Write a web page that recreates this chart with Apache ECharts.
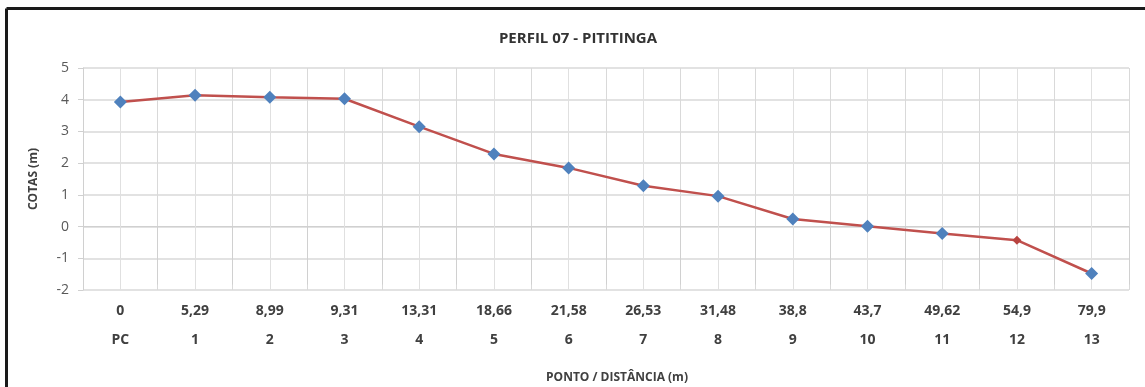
<!DOCTYPE html>
<html><head><meta charset="utf-8">
<script src="https://cdn.jsdelivr.net/npm/echarts@6/dist/echarts.min.js"></script>
<style>html,body{margin:0;padding:0;background:#fff}#c{width:1145px;height:387px}</style>
</head><body><div id="c"></div>
<script>
const distances = ['0','5,29','8,99','9,31','13,31','18,66','21,58','26,53','31,48','38,8','43,7','49,62','54,9','79,9'];
const points = ['PC','1','2','3','4','5','6','7','8','9','10','11','12','13'];
const cotas = [3.93, 4.14, 4.08, 4.03, 3.15, 2.29, 1.85, 1.29, 0.96, 0.24, 0.01, -0.22, -0.43, -1.48];
const title = 'PERFIL 07 - PITITINGA';
const xName = 'PONTO / DISTÂNCIA (m)';
const yName = 'COTAS (m)';

const cats = distances.map((d, i) => d + '\n' + points[i]);
const font = '"Open Sans", "Liberation Sans", sans-serif';
const chart = echarts.init(document.getElementById('c'));
chart.setOption({
  animation: false,
  backgroundColor: '#fff',
  title: { text: title, left: 573, top: 26, textAlign: 'center',
    textStyle: { fontFamily: font, fontSize: 15, fontWeight: 'bold', color: '#333' } },
  grid: { left: 83, right: 16, top: 68, bottom: 97, containLabel: false, outerBoundsMode: 'none' },
  xAxis: {
    type: 'category', data: cats, boundaryGap: true,
    name: xName, nameLocation: 'middle', nameGap: 82,
    nameTextStyle: { fontFamily: font, fontSize: 12, fontWeight: 'bold', color: '#404040', padding: [0, 0, 0, 22] },
    axisLine: { show: true, lineStyle: { color: '#d0d0d0', width: 1 } },
    axisTick: { show: true, length: 58, lineStyle: { color: '#d0d0d0' } },
    axisLabel: { fontFamily: font, fontSize: 14, fontWeight: 'bold', color: '#404040', lineHeight: 29, margin: 7, interval: 0 },
    splitLine: { show: true, lineStyle: { color: '#d9d9d9', width: 1 } }
  },
  yAxis: {
    type: 'value', min: -2, max: 5, interval: 1,
    name: yName, nameLocation: 'middle', nameGap: 43, nameRotate: 90,
    nameTextStyle: { fontFamily: font, fontSize: 12, fontWeight: 'bold', color: '#404040' },
    axisLine: { show: true, lineStyle: { color: '#d0d0d0' } },
    axisTick: { show: true, length: 5, lineStyle: { color: '#d0d0d0' } },
    axisLabel: { fontFamily: font, fontSize: 14, color: '#595959', margin: 14 },
    splitLine: { show: true, lineStyle: { color: '#d9d9d9', width: 1.5 } }
  },
  series: [{
    type: 'line', data: cotas.map((v, i) => i === 12
      ? { value: v, symbolSize: 9, itemStyle: { color: '#b8433f' } }
      : v),
    symbol: 'diamond', symbolSize: 13,
    itemStyle: { color: '#4f81bd' },
    lineStyle: { color: '#c0504d', width: 2.5 },
    z: 5,
    markLine: {
      silent: true, symbol: ['none', 'none'], label: { show: false },
      lineStyle: { color: '#e0e0e0', width: 1, type: 'solid' },
      data: cats.map(c => ({ xAxis: c }))
    }
  }],
  graphic: [
    { type: 'line', shape: { x1: 6.5, y1: 8.5, x2: 1145, y2: 8.5 }, style: { stroke: '#1a1a1a', lineWidth: 3 } },
    { type: 'line', shape: { x1: 6.5, y1: 8.5, x2: 6.5, y2: 387 }, style: { stroke: '#1a1a1a', lineWidth: 3 } }
  ]
});
</script></body></html>
